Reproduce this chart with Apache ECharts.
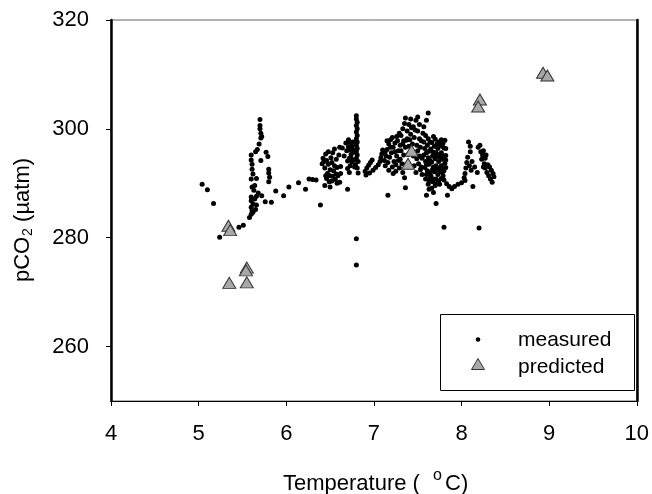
<!DOCTYPE html>
<html><head><meta charset="utf-8">
<script src="https://cdn.jsdelivr.net/npm/echarts@6/dist/echarts.min.js"></script>
<style>html,body{margin:0;padding:0;background:#fff}#c{width:652px;height:494px}</style>
</head><body><div id="c"></div>
<script>
const xTicks = [4, 5, 6, 7, 8, 9, 10];
const yTicks = [260, 280, 300, 320];
const xTitle = ['Temperature (', 'o', 'C)'];
const yTitle = ['pCO', '2', ' (µatm)'];
const legendNames = ['measured', 'predicted'];

const measured = [
  [5.04,289.8],[5.10,288.8],[5.17,286.3],[5.24,280.1],[5.46,281.9],[5.51,282.3],
  [5.70,301.7],[5.70,300.6],[5.70,300.0],[5.71,299.2],[5.72,298.6],[5.71,298.3],[5.69,297.2],[5.67,296.2],[5.65,295.8],[5.77,295.7],[5.79,294.9],[5.71,294.2],[5.60,295.2],[5.60,294.3],[5.61,293.5],[5.61,292.6],[5.62,291.7],[5.60,290.8],[5.66,290.9],[5.80,292.6],[5.80,291.9],[5.81,291.1],[5.80,290.3],[5.61,289.3],[5.63,288.7],[5.68,288.2],[5.72,287.7],[5.60,287.5],[5.60,286.8],[5.62,286.2],[5.60,285.6],[5.61,285.0],[5.60,284.3],[5.64,287.1],[5.66,286.0],[5.65,285.2],[5.76,286.6],[5.83,286.5],[5.58,283.7],[5.62,284.7],[5.66,287.6],[5.64,289.6],
  [5.88,288.6],[5.97,287.7],[6.03,289.3],[6.14,290.1],[6.22,288.9],[6.26,290.8],[6.30,290.7],[6.34,290.6],[6.39,286.0],
  [6.41,293.6],[6.42,294.6],[6.45,295.4],[6.44,292.8],[6.47,291.8],[6.50,292.5],[6.52,293.8],[6.55,296.3],[6.53,291.3],[6.56,290.7],[6.49,290.3],[6.44,289.6],[6.58,292.9],[6.60,295.2],[6.62,293.1],[6.51,294.7],[6.57,291.7],[6.48,293.5],[6.59,291.4],[6.54,292.3],[6.46,290.9],[6.61,290.2],[6.50,289.3],
  [6.43,294.0],[6.46,294.2],[6.48,295.8],[6.50,291.4],[6.52,290.4],[6.55,293.2],[6.57,294.4],[6.45,291.4],[6.53,295.6],[6.58,290.0],[6.62,291.8],[6.61,296.6],
  [6.80,302.4],[6.80,301.8],[6.81,301.2],[6.80,300.6],[6.81,300.0],[6.80,299.4],[6.81,298.8],[6.80,298.2],[6.81,297.6],[6.80,297.0],[6.81,296.4],[6.80,295.8],[6.81,295.2],[6.80,294.6],[6.82,294.0],[6.79,293.4],[6.81,292.8],
  [6.64,296.5],[6.68,297.4],[6.71,298.0],[6.73,297.5],[6.75,296.8],[6.72,296.1],[6.74,295.3],[6.72,294.6],[6.75,293.9],[6.73,293.2],[6.70,292.7],[6.77,295.7],[6.77,294.3],[6.69,296.0],[6.70,294.1],[6.66,295.0],
  [6.71,296.7],[6.74,294.6],[6.76,297.6],[6.72,292.0],[6.78,293.0],[6.76,296.2],
  [6.70,288.9],[6.82,291.9],[6.80,279.8],[6.80,275.0],
  [6.90,292.2],[6.92,292.8],[6.94,293.3],[6.96,293.8],[6.98,294.3],[6.91,291.5],[6.95,291.9],[6.99,292.4],[7.02,292.9],[7.05,293.4],[7.07,294.0],[7.08,294.7],[7.09,295.4],[7.10,296.1],
  [7.12,294.2],[7.14,295.0],[7.15,296.2],[7.17,297.2],[7.19,298.0],[7.13,293.2],[7.16,293.8],[7.18,294.8],[7.20,295.6],[7.22,296.6],[7.24,297.4],[7.21,293.0],[7.23,294.0],[7.26,295.0],[7.28,296.0],[7.29,292.8],[7.27,297.8],[7.30,294.4],[7.25,292.2],[7.30,297.0],
  [7.13,295.8],[7.15,297.8],[7.17,292.4],[7.19,296.6],[7.21,298.4],[7.22,291.8],[7.24,295.8],[7.25,293.4],[7.26,298.6],[7.28,294.2],[7.29,299.2],[7.31,296.0],[7.32,293.6],[7.33,297.2],[7.34,295.2],[7.36,296.6],[7.37,297.9],[7.39,295.3],[7.41,298.0],[7.43,300.2],[7.45,295.0],[7.47,299.8],[7.50,296.0],[7.52,300.8],[7.54,297.8],[7.55,294.6],[7.54,293.0],
  [7.31,298.8],[7.33,300.0],[7.35,301.0],[7.36,302.0],[7.38,299.6],[7.40,300.8],[7.42,301.8],[7.45,300.4],[7.48,301.6],[7.50,302.2],[7.34,297.8],[7.38,298.2],[7.42,299.0],[7.46,298.4],[7.50,299.6],[7.52,298.2],[7.44,297.2],[7.49,297.0],[7.53,296.6],[7.40,296.8],
  [7.47,295.6],[7.49,294.5],[7.51,293.6],[7.53,292.5],[7.55,291.6],[7.48,292.0],[7.52,295.0],[7.46,293.2],[7.35,291.0],[7.33,292.0],[7.37,293.5],
  [7.62,302.9],[7.60,301.6],[7.57,300.4],[7.56,299.2],
  [7.57,297.6],[7.58,296.4],[7.57,295.2],[7.59,294.0],[7.58,292.9],[7.60,291.6],
  [7.62,298.2],[7.61,297.0],[7.63,295.9],[7.62,294.7],[7.63,293.5],[7.61,292.3],[7.64,291.0],[7.62,289.8],
  [7.66,297.5],[7.65,296.3],[7.67,295.0],[7.66,293.9],[7.67,292.6],[7.65,291.4],[7.67,290.3],[7.66,289.1],
  [7.70,298.1],[7.69,296.8],[7.71,295.6],[7.70,294.5],[7.71,293.2],[7.69,292.1],[7.71,290.8],[7.70,289.6],
  [7.74,297.6],[7.73,296.4],[7.75,295.3],[7.74,294.0],[7.75,292.8],[7.73,291.6],[7.74,290.4],
  [7.77,298.0],[7.78,296.8],[7.77,295.6],[7.78,294.4],[7.77,293.2],[7.78,292.0],[7.77,290.9],
  [7.81,297.9],[7.80,296.5],[7.82,295.1],[7.81,293.7],[7.80,292.3],
  [7.59,298.8],[7.60,295.6],[7.60,293.4],[7.59,290.8],[7.64,297.6],[7.64,294.2],[7.64,292.0],[7.63,290.4],[7.68,298.6],[7.68,295.7],[7.68,293.0],[7.68,290.8],[7.72,297.2],[7.72,294.9],[7.72,292.5],[7.72,290.0],[7.76,297.1],[7.76,294.8],[7.76,292.3],[7.75,289.8],[7.79,297.4],[7.79,295.0],[7.79,292.6],[7.79,291.4],[7.82,296.4],[7.82,294.3],[7.82,292.9],
  [7.80,290.6],[7.83,289.9],[7.86,289.4],[7.89,289.0],[7.92,289.4],[7.96,289.8],[8.00,290.1],[8.04,290.5],
  [7.16,287.8],[7.36,289.2],[7.60,287.8],[7.71,286.3],[7.84,287.8],[7.80,281.9],[7.63,288.9],[7.68,288.3],
  [8.08,297.6],[8.10,296.8],[8.10,295.8],[8.07,294.8],[8.06,293.8],[8.05,292.8],[8.04,291.8],[8.03,291.0],[8.13,289.4],[8.19,296.6],[8.22,295.8],[8.24,295.2],[8.23,294.4],[8.26,293.6],[8.27,292.8],[8.29,292.0],[8.31,291.4],[8.33,290.8],[8.35,290.2],[8.37,291.2],[8.34,292.4],[8.30,293.4],[8.27,294.6],[8.15,293.0],[8.18,292.0],[8.20,281.8],[8.12,294.0],
  [8.09,293.2],[8.11,292.4],[8.21,297.0],[8.25,296.0],[8.28,295.2],[8.32,293.0],[8.36,291.8],[8.25,293.0]
];

const predicted = [
  [5.34,282.2],[5.36,281.4],[5.35,271.7],[5.55,274.5],[5.54,274.0],[5.55,271.8],
  [7.43,296.0],[7.39,293.6],[8.21,305.4],[8.19,304.1],[8.93,310.3],[8.98,309.8]
];

const FONT = '"Liberation Sans", Arial, sans-serif';
const chart = echarts.init(document.getElementById('c'), null, {renderer: 'canvas'});
const option = {
  animation: false,
  backgroundColor: '#fff',
  grid: {left: 111, right: 12, top: 20, bottom: 93, show: true, borderColor: '#666', borderWidth: 1},
  xAxis: {
    type: 'value', min: 4, max: 10, interval: 1,
    axisLine: {show: true, onZero: false, lineStyle: {color: '#000', width: 1}},
    axisTick: {show: true, length: 5, customValues: xTicks, lineStyle: {color: '#000', width: 1}},
    axisLabel: {customValues: xTicks, margin: 22, fontSize: 22, color: '#000', fontFamily: FONT},
    splitLine: {show: false}
  },
  yAxis: [{
    type: 'value', min: 250, max: 320,
    axisLine: {show: true, onZero: false, lineStyle: {color: '#000', width: 2.5}},
    axisTick: {show: true, length: 5, customValues: yTicks, lineStyle: {color: '#000', width: 1}},
    axisLabel: {customValues: yTicks, margin: 22, fontSize: 22, color: '#000', fontFamily: FONT},
    splitLine: {show: false}
  }, {
    type: 'value', min: 250, max: 320, position: 'right',
    axisLine: {show: true, onZero: false, lineStyle: {color: '#000', width: 2.5}},
    axisTick: {show: false}, axisLabel: {show: false}, splitLine: {show: false}
  }],
  series: [{
    name: legendNames[0], type: 'scatter', data: measured, symbol: 'circle', symbolSize: 5,
    itemStyle: {color: '#000', opacity: 1}, z: 2
  }, {
    name: legendNames[1], type: 'scatter', data: predicted, symbol: 'triangle', symbolSize: [13, 11],
    itemStyle: {color: '#a8a8a8', borderColor: '#333', borderWidth: 1, opacity: 1}, z: 3
  }],
  graphic: [
    {type: 'group', x: 22.5, y: 282, rotation: Math.PI / 2, children: [
      {type: 'text', x: 0, y: 0, style: {text: yTitle[0], fontSize: 22, fontFamily: FONT, fill: '#000', align: 'left', verticalAlign: 'middle'}},
      {type: 'text', x: 46, y: 6, style: {text: yTitle[1], fontSize: 14, fontFamily: FONT, fill: '#000', align: 'left', verticalAlign: 'middle'}},
      {type: 'text', x: 54, y: 0, style: {text: yTitle[2], fontSize: 22, fontFamily: FONT, fill: '#000', align: 'left', verticalAlign: 'middle'}}
    ]},
    {type: 'text', x: 283, y: 484, style: {text: xTitle[0], fontSize: 22, fontFamily: FONT, fill: '#000', align: 'left', verticalAlign: 'middle'}},
    {type: 'text', x: 433, y: 476, style: {text: xTitle[1], fontSize: 16, fontFamily: FONT, fill: '#000', align: 'left', verticalAlign: 'middle'}},
    {type: 'text', x: 445, y: 484, style: {text: xTitle[2], fontSize: 22, fontFamily: FONT, fill: '#000', align: 'left', verticalAlign: 'middle'}},
    {type: 'rect', shape: {x: 440.5, y: 314.5, width: 194, height: 76}, style: {fill: '#fff', stroke: '#000', lineWidth: 1}, z: 10},
    {type: 'circle', shape: {cx: 478, cy: 339.5, r: 2.3}, style: {fill: '#000'}, z: 11},
    {type: 'polygon', shape: {points: [[471.5, 369.5], [484.5, 369.5], [478, 358.5]]}, style: {fill: '#a8a8a8', stroke: '#333', lineWidth: 1}, z: 11},
    {type: 'text', x: 518, y: 340, style: {text: legendNames[0], fontSize: 21, fontFamily: FONT, fill: '#000', align: 'left', verticalAlign: 'middle'}, z: 11},
    {type: 'text', x: 518, y: 367, style: {text: legendNames[1], fontSize: 21, fontFamily: FONT, fill: '#000', align: 'left', verticalAlign: 'middle'}, z: 11}
  ]
};
chart.setOption(option);
</script>
</body></html>
